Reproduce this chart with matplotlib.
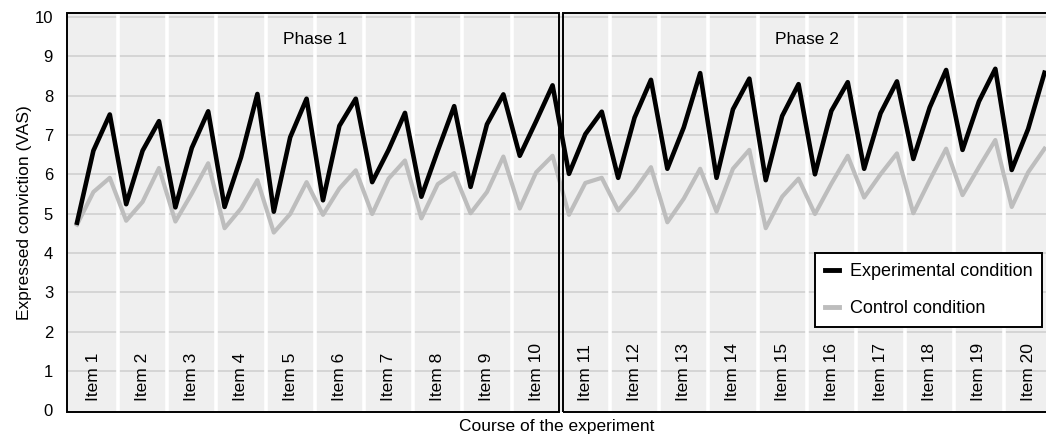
import matplotlib
matplotlib.use("Agg")
import matplotlib.pyplot as plt
from matplotlib.patches import Rectangle
import numpy as np

plt.rcParams['font.family'] = ['Liberation Sans', 'DejaVu Sans']

items = [f"Item {i}" for i in range(1, 21)]
phases = ["Phase 1", "Phase 2"]
series_names = ["Experimental condition", "Control condition"]

# three measurements per item
experimental = [
    4.77, 6.60, 7.52,
    5.24, 6.60, 7.35,
    5.16, 6.67, 7.60,
    5.17, 6.43, 8.04,
    5.05, 6.94, 7.92,
    5.34, 7.23, 7.92,
    5.80, 6.62, 7.56,
    5.43, 6.60, 7.73,
    5.68, 7.27, 8.03,
    6.47, 7.35, 8.26,
    6.01, 7.02, 7.59,
    5.91, 7.44, 8.40,
    6.14, 7.19, 8.57,
    5.91, 7.65, 8.43,
    5.85, 7.48, 8.29,
    6.00, 7.61, 8.34,
    6.14, 7.55, 8.36,
    6.39, 7.70, 8.65,
    6.62, 7.85, 8.68,
    6.11, 7.15, 8.58,
]
control = [
    4.72, 5.55, 5.91,
    4.82, 5.30, 6.16,
    4.80, 5.51, 6.28,
    4.63, 5.13, 5.85,
    4.52, 4.99, 5.80,
    4.97, 5.64, 6.10,
    4.99, 5.89, 6.35,
    4.88, 5.75, 6.03,
    5.01, 5.55, 6.45,
    5.13, 6.05, 6.47,
    4.97, 5.78, 5.91,
    5.08, 5.59, 6.18,
    4.78, 5.38, 6.14,
    5.05, 6.14, 6.62,
    4.63, 5.43, 5.89,
    4.99, 5.76, 6.47,
    5.41, 6.00, 6.53,
    5.01, 5.85, 6.65,
    5.47, 6.18, 6.87,
    5.17, 6.05, 6.65,
]
y_ticks = list(range(0, 11))

W, H = 1046, 436
fig = plt.figure(figsize=(W / 100, H / 100), dpi=100)
ax_left, ax_right = 67, 1046
ax_top, ax_bot = 13.3, 412
ax = fig.add_axes([ax_left / W, 1 - ax_bot / H, (ax_right - ax_left) / W, (ax_bot - ax_top) / H])
ax.set_facecolor('#efefef')

n_per = 3
x = np.arange(len(experimental))
x0, x1 = -0.61, 59.09
y0, y1 = -0.04, 10.09
ax.set_xlim(x0, x1)
ax.set_ylim(y0, y1)

# horizontal grid
for yv in y_ticks[1:]:
    ax.axhline(yv, color='#d3d3d3', lw=1.3, zorder=1)
# white separators between items
for i in range(1, len(items)):
    if i == len(items) // 2:
        continue
    ax.axvline(i * n_per - 0.5, color='white', lw=2.6, zorder=1.5)

ax.plot(x, control, color='#bdbdbd', lw=3.0, zorder=3, label=series_names[1])
ax.plot(x, experimental, color='black', lw=3.3, zorder=4, label=series_names[0])

# phase frames
half = len(items) // 2 * n_per
gap = 0.12
ax.add_patch(Rectangle((x0, y0), half - 0.5 - gap - x0, y1 - y0, fill=False,
                       edgecolor='black', lw=1.4, zorder=5, clip_on=False))
ax.add_patch(Rectangle((half - 0.5 + gap, y0), 40, y1 - y0, fill=False,
                       edgecolor='black', lw=1.4, zorder=5, clip_on=False))

for p, name in enumerate(phases):
    ax.text(p * half + half / 2 - 0.5, 9.42, name, ha='center', va='center', fontsize=12.5)

for i, lab in enumerate(items):
    ax.text(i * n_per + 1, 0.25, lab, rotation=90, ha='center', va='bottom', fontsize=12.5)

for s in ax.spines.values():
    s.set_visible(False)
ax.set_xticks([])
ax.set_yticks(y_ticks)
ax.tick_params(axis='y', length=0, pad=10, labelsize=12)

ax.set_ylabel("Expressed conviction (VAS)", fontsize=12.5)
ax.yaxis.set_label_coords(-0.036, 0.5)
ax.set_xlabel("Course of the experiment", fontsize=12.5)
ax.xaxis.set_label_coords(0.5, -0.018)

handles, labels = ax.get_legend_handles_labels()
leg = ax.legend(handles[::-1], labels[::-1], loc='lower right', bbox_to_anchor=(0.996, 0.213),
                fontsize=13, frameon=True, fancybox=False, edgecolor='black', facecolor='white',
                framealpha=1, handlelength=0.75, handletextpad=0.6, labelspacing=1.1,
                borderpad=0.55, borderaxespad=0)
leg.get_frame().set_linewidth(1.4)
for line in leg.get_lines():
    line.set_linewidth(3.5)
leg.set_zorder(10)

fig.savefig("out.png", dpi=100)
